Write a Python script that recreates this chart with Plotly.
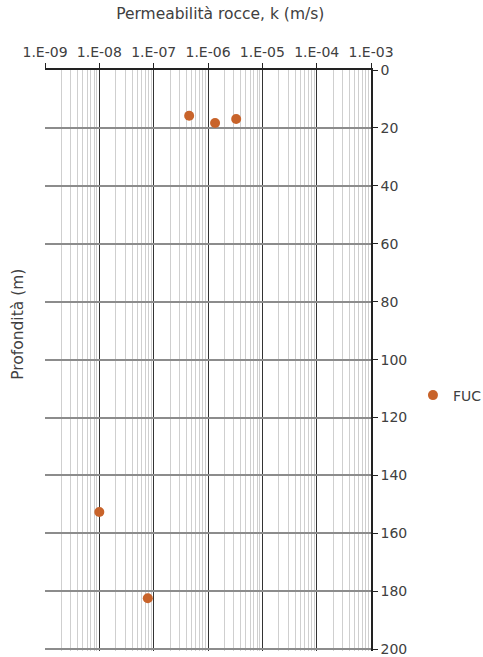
import plotly.graph_objects as go

# Rock permeability measurements versus depth
series_name = "FUC"
permeability = [4.5e-7, 1.35e-6, 3.3e-6, 1.0e-8, 7.8e-8]   # k (m/s)
depth = [15.8, 18.3, 16.9, 152.6, 182.4]                   # m

x_tickvals = [1e-9, 1e-8, 1e-7, 1e-6, 1e-5, 1e-4, 1e-3]
x_ticktext = ["1.E-09", "1.E-08", "1.E-07", "1.E-06", "1.E-05", "1.E-04", "1.E-03"]
y_tickvals = [0, 20, 40, 60, 80, 100, 120, 140, 160, 180, 200]

font_family = "'DejaVu Sans', sans-serif"
text_color = "#404040"
point_color = "#C8632A"

fig = go.Figure()
fig.add_trace(go.Scatter(
    x=permeability, y=depth, mode="markers", name=series_name,
    marker=dict(color=point_color, size=10, line=dict(width=0)),
    cliponaxis=False,
))

fig.update_layout(
    width=483, height=657,
    margin=dict(l=45, r=112, t=70, b=6, autoexpand=False),
    paper_bgcolor="white", plot_bgcolor="white",
    font=dict(family=font_family, size=14, color=text_color),
    showlegend=True,
    legend=dict(xref="container", yref="container", x=0.855, y=0.398,
                xanchor="left", yanchor="middle",
                font=dict(size=14, color=text_color),
                itemwidth=30, tracegroupgap=0, bgcolor="rgba(0,0,0,0)"),
    title=dict(text="Permeabilità rocce, k (m/s)", x=0.456, xanchor="center",
               y=0.988, yanchor="top", font=dict(size=15.5, color=text_color)),
    xaxis=dict(
        type="log", side="top", range=[-9, -3],
        tickvals=x_tickvals, ticktext=x_ticktext,
        ticks="outside", ticklen=5, tickcolor="#222222", tickwidth=1,
        showline=True, linecolor="#222222", linewidth=2,
        showgrid=True, gridcolor="#333333", gridwidth=1,
        minor=dict(dtick="D1", showgrid=True, gridcolor="#cfcfcf", gridwidth=1, ticks=""),
        tickfont=dict(size=14, color=text_color),
        zeroline=False, mirror=False,
    ),
    yaxis=dict(
        range=[200.6, 0], side="right",
        tickvals=y_tickvals,
        ticks="outside", ticklen=5, tickcolor="#222222", tickwidth=1,
        showline=True, linecolor="#222222", linewidth=1.5,
        showgrid=True, gridcolor="#8c8c8c", gridwidth=1.5,
        tickfont=dict(size=14, color=text_color),
        ticklabeloverflow="allow",
        zeroline=False,
        title=None,
    ),
    annotations=[dict(
        text="Profondità (m)", textangle=-90, xref="paper", yref="paper",
        x=-0.083, y=0.563, xanchor="center", yanchor="middle", showarrow=False,
        font=dict(size=15.5, color=text_color),
    )],
)

fig.write_html("out.html")
